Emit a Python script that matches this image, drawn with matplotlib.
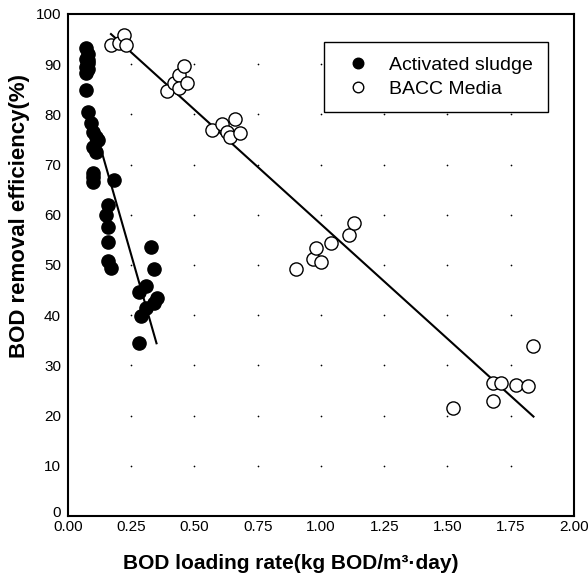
import matplotlib
matplotlib.use('Agg')
import matplotlib.pyplot as plt
import matplotlib.transforms as mtransforms
import numpy as np

plt.rcParams['font.family'] = ['Liberation Sans', 'DejaVu Sans']

# Activated sludge: loading rate vs removal efficiency
as_load = [0.07, 0.08, 0.07, 0.08, 0.07, 0.08, 0.07, 0.08, 0.07, 0.08,
           0.09, 0.10, 0.11, 0.12, 0.10, 0.11, 0.10, 0.10, 0.10, 0.18,
           0.16, 0.15, 0.16, 0.16, 0.16, 0.17,
           0.33, 0.34, 0.31, 0.28, 0.35, 0.34, 0.31, 0.29, 0.28]
as_eff = [93.2, 92.0, 91.0, 90.3, 89.5, 89.0, 88.3, 90.8, 84.9, 80.5,
          78.3, 76.5, 75.5, 74.9, 73.5, 72.5, 68.3, 66.5, 67.5, 67.0,
          62.0, 60.0, 57.5, 54.6, 50.8, 49.4,
          53.6, 49.2, 45.8, 44.6, 43.4, 42.4, 41.4, 39.8, 34.5]

# BACC media
bacc_load = [0.17, 0.20, 0.22, 0.23,
             0.39, 0.42, 0.44, 0.44, 0.46, 0.47,
             0.57, 0.61, 0.63, 0.64, 0.66, 0.68,
             0.90, 0.97, 0.98, 1.00, 1.04, 1.11, 1.13,
             1.52, 1.68, 1.68, 1.71, 1.77, 1.82, 1.84]
bacc_eff = [93.8, 94.2, 95.8, 93.8,
            84.7, 86.3, 87.8, 85.3, 89.6, 86.2,
            76.9, 78.0, 76.5, 75.5, 79.1, 76.2,
            49.2, 51.2, 53.3, 50.5, 54.3, 56.0, 58.4,
            21.5, 23.0, 26.5, 26.4, 26.1, 25.8, 33.8]

# linear fits drawn as in the figure
as_fit_x = [0.12, 0.35]
as_fit_y = [74.9, 34.4]
bacc_fit_x = [0.17, 1.84]
bacc_fit_y = [96.0, 19.8]

x_ticks = [0.00, 0.25, 0.50, 0.75, 1.00, 1.25, 1.50, 1.75, 2.00]
y_ticks = [0, 10, 20, 30, 40, 50, 60, 70, 80, 90, 100]

fig = plt.figure(figsize=(5.88, 5.83), dpi=100)
ax = fig.add_axes([0.1156, 0.115, 0.8605, 0.861])

# faint dots at the grid crossings
gx, gy = np.meshgrid(x_ticks[1:-1], y_ticks[1:-1])
ax.scatter(gx.ravel(), gy.ravel(), s=1.5, color='black', zorder=1, linewidths=0)

ax.plot(as_fit_x, as_fit_y, color='black', lw=1.5, zorder=2)
ax.plot(bacc_fit_x, bacc_fit_y, color='black', lw=1.5, zorder=2)

ax.plot(as_load, as_eff, 'o', ms=9.5, color='black', mec='black',
        label='Activated sludge', zorder=3)
ax.plot(bacc_load, bacc_eff, 'o', ms=9.5, mfc='white', mec='black', mew=1.0,
        label='BACC Media', zorder=4)

ax.set_xlim(0, 2.0)
ax.set_ylim(0, 100)
ax.set_xticks(x_ticks)
ax.set_xticklabels([f'{t:.2f}' for t in x_ticks])
ax.set_yticks(y_ticks)
ax.tick_params(length=0, labelsize=11)
ax.tick_params(axis='x', pad=3)
ax.tick_params(axis='y', pad=5)
for s in ax.spines.values():
    s.set_linewidth(1.5)

# lift the "0" on the y axis a little so it clears "0.00"
fig.canvas.draw()
ylab0 = ax.get_yticklabels()[0]
ylab0.set_transform(ylab0.get_transform() +
                    mtransforms.ScaledTranslation(0, 3 / 72, fig.dpi_scale_trans))

ax.set_xlabel('BOD loading rate(kg BOD/m³·day)', fontsize=15,
              fontweight='bold', labelpad=14, x=0.44)
ax.set_ylabel('BOD removal efficiency(%)', fontsize=16,
              fontweight='bold', labelpad=4, y=0.598)

leg = ax.legend(loc='upper right', bbox_to_anchor=(0.9486, 0.944), fontsize=14,
                fancybox=False, edgecolor='black', framealpha=1,
                handletextpad=0.6, borderpad=0.75, labelspacing=0.3,
                handlelength=2.0, borderaxespad=0, markerscale=0.8)
leg.get_frame().set_linewidth(1.0)

fig.savefig('out.png', dpi=100)
